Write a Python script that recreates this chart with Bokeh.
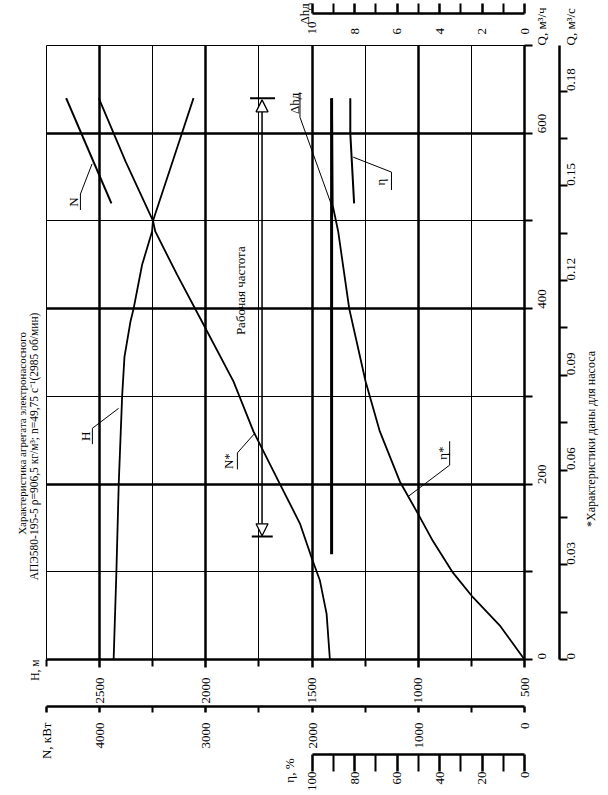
import math
from bokeh.plotting import figure
from bokeh.models import (Range1d, LinearAxis, FixedTicker, Grid, Label, Arrow,
                          NormalHead, CustomJSTickFormatter)
from bokeh.embed import file_html
from bokeh.resources import INLINE

FONT = "Liberation Serif"

# ---------------- data ----------------
# flow Q, m3/h ; head H, m
head_q = [0, 100, 200, 300, 345, 385, 400, 450, 488, 500, 568, 640]
head_h = [2434, 2421, 2410, 2394, 2383, 2355, 2340, 2300, 2253, 2249, 2156, 2058]

# pump power N*, kW
power_q = [0, 52, 90, 116, 155, 200, 260, 317, 389, 439, 488, 500, 568, 640]
power_n = [1832, 1863, 1926, 2004, 2114, 2302, 2552, 2740, 3053, 3272, 3476, 3497, 3756, 4008]

# unit power N, kW
unit_q = [520, 640]
unit_n = [3889, 4315]

# pump efficiency eta*, %
eff_q = [0, 39, 71, 99, 135, 166, 203, 260, 317, 400, 488, 518, 640]
eff = [0, 11.7, 24.3, 33.7, 43.1, 50.1, 58.7, 68.1, 74.8, 82.5, 87.7, 90.3, 90.6]

# unit efficiency eta, %
unit_eff_q = [520, 600, 640]
unit_eff = [80.2, 82.0, 82.0]

# NPSH required, m
npsh_q = [120, 640]
npsh = [9.08, 9.08]

# working range (Рабочая частота), m3/h
work_q = [141, 638]

# ticks
H_TICKS = [500, 1000, 1500, 2000, 2500]
H_MINOR = [750, 1250, 1750, 2250, 2750]
N_TICKS = [0, 1000, 2000, 3000, 4000]
N_MINOR = [500, 1500, 2500, 3500]
N_END = 4500
ETA_TICKS = [0, 20, 40, 60, 80, 100]
ETA_MINOR = [10, 30, 50, 70, 90]
DH_TICKS = [0, 2, 4, 6, 8, 10]
DH_MINOR = [1, 3, 5, 7, 9]
QH_TICKS = [0, 200, 400, 600]
QH_ALL = [0, 100, 200, 300, 400, 500, 600, 700]
QS_TICKS = [0, 0.03, 0.06, 0.09, 0.12, 0.15, 0.18]
QS_ALL = [0, 0.015, 0.03, 0.045, 0.06, 0.075, 0.09, 0.105, 0.12, 0.135, 0.15, 0.165, 0.18]

TITLE_1 = "Характеристика агрегата электронасосного"
TITLE_2 = "АПЭ580-195-5 ρ=906,5 кг/м³; n=49,75 с⁻¹(2985 об/мин)"
NOTE = "*Характеристики даны для насоса"

Q_MAX = 700
FRAME_H = 616
FRAME_W = 479

# ---------------- figure ----------------
p = figure(width=608, height=795,
           x_range=Range1d(2750, 500), y_range=Range1d(0, Q_MAX),
           x_axis_location=None, y_axis_location=None,
           toolbar_location=None, output_backend="svg",
           min_border_left=46, min_border_right=83, min_border_top=43, min_border_bottom=136,
           background_fill_color="white", border_fill_color="white",
           outline_line_color="black", outline_line_width=1)
p.center = []
p.extra_x_ranges = {"N": Range1d(4500, 0), "eta": Range1d(225, 0), "dh": Range1d(22.5, 0)}
p.extra_y_ranges = {"qs": Range1d(0, Q_MAX / 3600)}

# grids
for dim, ticks, w in ((0, [1000, 1500, 2000, 2500], 2.5), (0, [750, 1250, 1750, 2250], 1),
                      (1, [200, 400, 600], 2.5), (1, [100, 300, 500], 1)):
    p.add_layout(Grid(dimension=dim, ticker=FixedTicker(ticks=ticks),
                      grid_line_color="black", grid_line_width=w))


def style(ax, size="13px"):
    ax.axis_line_color = "black"
    ax.axis_line_width = 2.5
    ax.major_tick_line_color = "black"
    ax.major_tick_line_width = 2.5
    ax.minor_tick_line_color = "black"
    ax.minor_tick_line_width = 2
    ax.major_tick_in = 0
    ax.minor_tick_in = 0
    ax.major_label_text_font = FONT
    ax.major_label_text_font_size = size
    ax.major_label_text_color = "black"
    ax.major_label_orientation = math.pi / 2
    ax.axis_label_text_font_size = "1px"
    return ax


def lookup(pos, labels, tol):
    return CustomJSTickFormatter(
        args=dict(pos=pos, labels=labels, tol=tol),
        code="for (let i = 0; i < pos.length; i++) { if (Math.abs(pos[i] - tick) < tol) return labels[i]; } return '';")


def text_axis(labels, pos, standoff, size="13px", tol=1e-3, **kw):
    ax = style(LinearAxis(ticker=FixedTicker(ticks=pos), formatter=lookup(pos, labels, tol),
                          major_tick_out=0, minor_tick_out=0, major_label_standoff=standoff, **kw), size)
    ax.axis_line_color = None
    ax.major_tick_line_color = None
    ax.minor_tick_line_color = None
    return ax


def qy(py):
    """page pixel row of the reference -> Q, m3/h"""
    return (659 - py) * Q_MAX / FRAME_H


def hx(px):
    """page pixel column of the reference -> H, m"""
    return 500 + (525 - px) * 2250 / FRAME_W


# ---- bottom axes: H, N, eta and the eta name
ax_h = style(LinearAxis(ticker=FixedTicker(ticks=H_TICKS, minor_ticks=H_MINOR),
                        major_tick_out=8, minor_tick_out=7, major_label_standoff=10,
                        axis_label=" ", axis_label_standoff=-4))
n_pos = N_TICKS + [N_END]
n_labels = [str(t) for t in N_TICKS] + ["N, кВт"]
ax_n = style(LinearAxis(x_range_name="N", ticker=FixedTicker(ticks=n_pos, minor_ticks=N_MINOR),
                        formatter=lookup(n_pos, n_labels, 1e-3),
                        major_tick_out=6, minor_tick_out=6, major_label_standoff=10,
                        axis_label=" ", axis_label_standoff=-12))
ax_eta = style(LinearAxis(x_range_name="eta", bounds=(0, 100),
                          ticker=FixedTicker(ticks=ETA_TICKS, minor_ticks=ETA_MINOR),
                          major_tick_out=17, minor_tick_out=17, major_label_standoff=0))
eta_name_pos = [(525 - 290) * 225 / FRAME_W]
ax_eta_name = text_axis(["η, %"], eta_name_pos, -36, x_range_name="eta")
for ax in (ax_h, ax_n, ax_eta, ax_eta_name):
    p.add_layout(ax, "below")

# ---- left: title lines and the H name
ax_title2 = text_axis(["H, м", TITLE_2], [0, qy(311)], 12, size="11.5px")
ax_title1 = text_axis([TITLE_1], [qy(330.5)], -3, size="11px")
for ax in (ax_title2, ax_title1):
    p.add_layout(ax, "left")

# ---- right axes: Q m3/h and Q m3/s (with their names), then the footnote
qh_labels = [str(t) for t in QH_TICKS] + ["Q, м³/ч"]
qh_pos = QH_TICKS + [Q_MAX]
qs_labels = ["0" if t == 0 else "%.2f" % t for t in QS_TICKS] + ["Q, м³/с"]
qs_pos = QS_TICKS + [Q_MAX / 3600]

ax_qh = style(LinearAxis(ticker=FixedTicker(ticks=qh_pos, minor_ticks=QH_ALL),
                         formatter=lookup(qh_pos, qh_labels, 1e-3),
                         major_tick_out=8, minor_tick_out=8, major_label_standoff=9))
ax_qh.major_tick_line_color = None
ax_qs = style(LinearAxis(y_range_name="qs", ticker=FixedTicker(ticks=qs_pos, minor_ticks=QS_ALL),
                         formatter=lookup(qs_pos, qs_labels, 1e-7),
                         major_tick_out=8, minor_tick_out=8, major_label_standoff=3))
ax_qs.major_tick_line_color = None
ax_note = text_axis([NOTE], [qy(526)], 3, size="12px")
for ax in (ax_qh, ax_qs, ax_note):
    p.add_layout(ax, "right")

# ---- top: NPSH axis (labels below its rule) and its name
ax_dh_lab = style(LinearAxis(x_range_name="dh", bounds=(0, 10), ticker=FixedTicker(ticks=DH_TICKS),
                             major_tick_out=0, minor_tick_out=0, major_label_standoff=11,
                             axis_label=" ", axis_label_standoff=1))
ax_dh_lab.axis_line_color = None
ax_dh_lab.major_tick_line_color = None
ax_dh_lab.minor_tick_line_color = None
ax_dh_line = style(LinearAxis(x_range_name="dh", bounds=(0, 10),
                              ticker=FixedTicker(ticks=DH_TICKS, minor_ticks=DH_MINOR),
                              formatter=CustomJSTickFormatter(code="return '';"),
                              major_tick_out=10, minor_tick_out=10, major_label_standoff=0))
dh_name_pos = [(525 - 305) * 22.5 / FRAME_W]
ax_dh_name = text_axis(["Δhд"], dh_name_pos, -21, x_range_name="dh")
for ax in (ax_dh_lab, ax_dh_line, ax_dh_name):
    p.add_layout(ax, "above")

# ---------------- curves ----------------
p.line(head_h, head_q, line_color="black", line_width=1.8)
p.line(power_n, power_q, x_range_name="N", line_color="black", line_width=1.8)
p.line(unit_n, unit_q, x_range_name="N", line_color="black", line_width=2)
p.line(eff, eff_q, x_range_name="eta", line_color="black", line_width=1.8)
p.line(unit_eff, unit_eff_q, x_range_name="eta", line_color="black", line_width=2)
p.line(npsh, npsh_q, x_range_name="dh", line_color="black", line_width=3)


# ---------------- annotations inside the frame ----------------
def txt(text, px, py, size="13px"):
    p.add_layout(Label(x=hx(px), y=qy(py), text=text, angle=math.pi / 2,
                       text_align="center", text_baseline="middle",
                       text_font=FONT, text_font_size=size, text_color="black"))


def seg(pts, w=1):
    p.line([hx(a) for a, b in pts], [qy(b) for a, b in pts], line_color="black", line_width=w)


# curve labels with underline and leader
txt("N", 73, 200)
seg([(91.7, 161.7), (80, 192), (80, 208)])
txt("H", 85, 435)
seg([(118.3, 407), (92, 427), (92, 443)])
txt("N*", 228.5, 460)
seg([(255, 431.7), (237.3, 451.7), (237.3, 468.3)])
txt("η*", 443, 452)
seg([(409, 495), (450, 464), (450, 440)])
txt("η", 381, 180)
seg([(353.3, 155), (391.7, 170), (391.7, 188)])
txt("Δhд", 295, 101)
seg([(331.7, 203.3), (300, 115), (300, 90)])

# working range arrow
WORK_H = hx(262)
p.add_layout(Arrow(start=NormalHead(size=12, fill_color="white", line_color="black", line_width=1.3),
                   end=NormalHead(size=12, fill_color="white", line_color="black", line_width=1.3),
                   x_start=WORK_H, y_start=work_q[0], x_end=WORK_H, y_end=work_q[1],
                   line_color="black", line_width=1.5))
p.segment(x0=[hx(250), hx(251.7)], y0=[qy(96), qy(535.7)], x1=[hx(275), hx(272.7)],
          y1=[qy(96), qy(535.7)], line_color="black", line_width=2)
txt("Рабочая частота", 240, 289)

open("out.html", "w").write(file_html(p, INLINE))
